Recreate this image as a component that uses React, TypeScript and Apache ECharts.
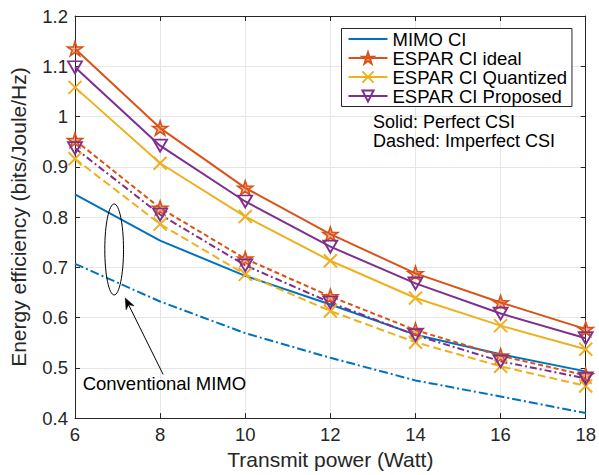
import React, { useEffect, useRef } from "react";
import * as echarts from "echarts";

// ---------- data ----------
const powerWatt = [6, 8, 10, 12, 14, 16, 18];

const mimoPerfect = [0.845, 0.753, 0.683, 0.626, 0.566, 0.527, 0.493];
const mimoImperfect = [0.707, 0.632, 0.569, 0.52, 0.475, 0.443, 0.41];

const idealPerfect = [1.135, 0.977, 0.858, 0.766, 0.688, 0.63, 0.577];
const quantPerfect = [1.058, 0.907, 0.801, 0.713, 0.639, 0.584, 0.537];
const proposedPerfect = [1.098, 0.942, 0.831, 0.741, 0.668, 0.608, 0.559];

const idealImperfect = [0.953, 0.818, 0.717, 0.642, 0.575, 0.524, 0.485];
const quantImperfect = [0.916, 0.786, 0.686, 0.613, 0.551, 0.503, 0.464];
const proposedImperfect = [0.937, 0.805, 0.704, 0.63, 0.565, 0.513, 0.479];

const legendNames = ["MIMO CI", "ESPAR CI ideal", "ESPAR CI Quantized", "ESPAR CI Proposed"];

const xTicks = [6, 8, 10, 12, 14, 16, 18];
const yTicks = [0.4, 0.5, 0.6, 0.7, 0.8, 0.9, 1.0, 1.1, 1.2];

const xAxisTitle = "Transmit power (Watt)";
const yAxisTitle = "Energy efficiency (bits/Joule/Hz)";
const noteLines = ["Solid: Perfect CSI", "Dashed: Imperfect CSI"];
const annotationText = "Conventional MIMO";

// annotation anchors in data units
const ellipseX = [6.7, 7.14];
const ellipseY = [0.645, 0.826];
const arrowTail = [8.07, 0.487];
const arrowTip = [7.18, 0.639];
const annotationAnchor = [6.18, 0.469];
const noteAnchor = [13.0, 0.99];

// ---------- styles ----------
const FONT = '"Liberation Sans", Arial, Helvetica, sans-serif';
const AXIS_COLOR = "#262626";
const C_BLUE = "#0072BD";
const C_ORANGE = "#D95319";
const C_YELLOW = "#EDB120";
const C_PURPLE = "#7E2F8E";

const STAR =
  "path://M10,0 L12.245,6.91 L19.511,6.91 L13.633,11.18 L15.878,18.09 L10,13.82 L4.122,18.09 L6.367,11.18 L0.489,6.91 L7.755,6.91 Z";
const XMARK = "path://M0,0 L10,10 M10,0 L0,10";
const TRI_DOWN = "path://M0,0 L10,0 L5,8.66 Z";

type Opts = {
  color: string;
  dash: any;
  symbol: string;
  symbolSize: any;
  fill: string;
  borderWidth: number;
  z?: number;
};

function makeSeries(name: string, values: number[], o: Opts) {
  return {
    type: "line",
    name,
    xAxisIndex: 0,
    yAxisIndex: 0,
    data: powerWatt.map((x, i) => [x, values[i]]),
    symbol: o.symbol,
    symbolSize: o.symbolSize,
    showSymbol: o.symbol !== "none",
    smooth: false,
    z: o.z ?? 2,
    lineStyle: { color: o.color, width: 2, type: o.dash },
    itemStyle: { color: o.fill, borderColor: o.color, borderWidth: o.borderWidth },
    emphasis: { disabled: true },
    silent: true,
  };
}

export default function App() {
  const ref = useRef<HTMLDivElement | null>(null);

  useEffect(() => {
    if (!ref.current) return;
    const chart = echarts.init(ref.current, null, { renderer: "svg" });

    const starOpts = {
      color: C_ORANGE,
      symbol: STAR,
      symbolSize: [15, 14],
      fill: "rgba(217,83,25,0.45)",
      borderWidth: 1.6,
    };
    const xOpts = {
      color: C_YELLOW,
      symbol: XMARK,
      symbolSize: 13,
      fill: "rgba(0,0,0,0)",
      borderWidth: 2,
    };
    const triOpts = {
      color: C_PURPLE,
      symbol: TRI_DOWN,
      symbolSize: [14, 12],
      fill: "rgba(0,0,0,0)",
      borderWidth: 1.8,
    };

    const series = [
      makeSeries(legendNames[0], mimoPerfect, {
        color: C_BLUE, dash: "solid", symbol: "none", symbolSize: 0, fill: C_BLUE, borderWidth: 0,
      }),
      makeSeries(legendNames[1], idealPerfect, { ...starOpts, dash: "solid" }),
      makeSeries(legendNames[2], quantPerfect, { ...xOpts, dash: "solid" }),
      makeSeries(legendNames[3], proposedPerfect, { ...triOpts, dash: "solid" }),
      makeSeries("MIMO CI (imperfect CSI)", mimoImperfect, {
        color: C_BLUE, dash: [9, 3, 2, 3], symbol: "none", symbolSize: 0, fill: C_BLUE, borderWidth: 0,
      }),
      makeSeries("ESPAR CI ideal (imperfect CSI)", idealImperfect, { ...starOpts, dash: [5, 3] }),
      makeSeries("ESPAR CI Quantized (imperfect CSI)", quantImperfect, { ...xOpts, dash: [8, 4] }),
      makeSeries("ESPAR CI Proposed (imperfect CSI)", proposedImperfect, { ...triOpts, dash: [7, 3, 2, 3] }),
    ];

    const fmtY = (v: number) => String(+Number(v).toFixed(2));

    const baseX = {
      type: "value",
      min: xTicks[0],
      max: xTicks[xTicks.length - 1],
      interval: xTicks[1] - xTicks[0],
      axisLine: { show: true, onZero: false, lineStyle: { color: AXIS_COLOR, width: 1 } },
      axisTick: { show: true, inside: true, length: 5, lineStyle: { color: AXIS_COLOR } },
    };
    const baseY = {
      type: "value",
      min: yTicks[0],
      max: yTicks[yTicks.length - 1],
      interval: 0.1,
      axisLine: { show: true, onZero: false, lineStyle: { color: AXIS_COLOR, width: 1 } },
      axisTick: { show: true, inside: true, length: 5, lineStyle: { color: AXIS_COLOR } },
    };

    chart.setOption({
      animation: false,
      backgroundColor: "#ffffff",
      textStyle: { fontFamily: FONT },
      grid: { left: 66, right: 12, top: 16, bottom: 47, containLabel: false },
      xAxis: [
        {
          ...baseX,
          position: "bottom",
          name: xAxisTitle,
          nameLocation: "middle",
          nameGap: 20,
          nameTextStyle: { fontSize: 21, color: AXIS_COLOR, fontFamily: FONT },
          axisLabel: {
            show: true,
            margin: 7,
            fontSize: 18.5,
            color: AXIS_COLOR,
            fontFamily: FONT,
            formatter: (v: number) => String(v),
          },
          splitLine: { show: true, lineStyle: { color: "#e6e6e6", width: 1 } },
        },
        {
          ...baseX,
          position: "top",
          axisLabel: { show: false },
          splitLine: { show: false },
        },
      ],
      yAxis: [
        {
          ...baseY,
          position: "left",
          name: yAxisTitle,
          nameLocation: "middle",
          nameRotate: 90,
          nameGap: 46,
          nameTextStyle: { fontSize: 21, color: AXIS_COLOR, fontFamily: FONT },
          axisLabel: {
            show: true,
            margin: 7,
            fontSize: 18.5,
            color: AXIS_COLOR,
            fontFamily: FONT,
            formatter: fmtY,
          },
          splitLine: { show: true, lineStyle: { color: "#e6e6e6", width: 1 } },
        },
        {
          ...baseY,
          position: "right",
          axisLabel: { show: false },
          splitLine: { show: false },
        },
      ],
      legend: {
        data: [
          { name: legendNames[0], itemStyle: { opacity: 0 } },
          legendNames[1],
          legendNames[2],
          legendNames[3],
        ],
        orient: "vertical",
        left: 341.5,
        top: 28.5,
        padding: [1, 5, 1, 6],
        itemGap: 0,
        itemWidth: 39,
        itemHeight: 14,
        itemTextGap: 4,
        selectedMode: false,
        backgroundColor: "#ffffff",
        borderColor: AXIS_COLOR,
        borderWidth: 1,
        textStyle: { fontSize: 18.5, lineHeight: 18.7, color: "#000000", fontFamily: FONT },
      },
      series,
    });

    const px = (v: number[]) => chart.convertToPixel({ seriesIndex: 0 }, v) as number[];

    const e0 = px([ellipseX[0], ellipseY[0]]);
    const e1 = px([ellipseX[1], ellipseY[1]]);
    const tail = px(arrowTail);
    const tip = px(arrowTip);
    const dx = tip[0] - tail[0];
    const dy = tip[1] - tail[1];
    const len = Math.hypot(dx, dy);
    const ux = dx / len;
    const uy = dy / len;
    const nx = -uy;
    const ny = ux;
    const headLen = 11;
    const headHalf = 4.5;
    const base = [tip[0] - ux * headLen, tip[1] - uy * headLen];
    const notch = [tip[0] - ux * headLen * 0.7, tip[1] - uy * headLen * 0.7];
    const ann = px(annotationAnchor);
    const note = px(noteAnchor);

    const textStyle = {
      fontSize: 18.5,
      fontFamily: FONT,
      fill: "#000000",
      align: "left",
      verticalAlign: "middle",
    };

    chart.setOption({
      graphic: [
        {
          type: "ellipse",
          z: 100,
          shape: {
            cx: (e0[0] + e1[0]) / 2,
            cy: (e0[1] + e1[1]) / 2,
            rx: Math.abs(e1[0] - e0[0]) / 2,
            ry: Math.abs(e1[1] - e0[1]) / 2,
          },
          style: { fill: "none", stroke: "#000000", lineWidth: 1 },
          silent: true,
        },
        {
          type: "line",
          z: 100,
          shape: { x1: tail[0], y1: tail[1], x2: notch[0], y2: notch[1] },
          style: { stroke: "#000000", lineWidth: 1 },
          silent: true,
        },
        {
          type: "polygon",
          z: 100,
          shape: {
            points: [
              [tip[0], tip[1]],
              [base[0] + nx * headHalf, base[1] + ny * headHalf],
              [notch[0], notch[1]],
              [base[0] - nx * headHalf, base[1] - ny * headHalf],
            ],
          },
          style: { fill: "#000000", stroke: "#000000", lineWidth: 0.5 },
          silent: true,
        },
        {
          type: "text",
          z: 100,
          x: ann[0],
          y: ann[1],
          style: { ...textStyle, text: annotationText },
          silent: true,
        },
        ...noteLines.map((t, i) => ({
          type: "text",
          z: 100,
          x: note[0],
          y: note[1] + i * 19.5,
          style: { ...textStyle, fontSize: 18, text: t },
          silent: true,
        })),
      ],
    });

    return () => {
      chart.dispose();
    };
  }, []);

  return (
    <div
      ref={ref}
      style={{ position: "fixed", left: 0, top: 0, width: 599, height: 475, background: "#ffffff" }}
    />
  );
}
